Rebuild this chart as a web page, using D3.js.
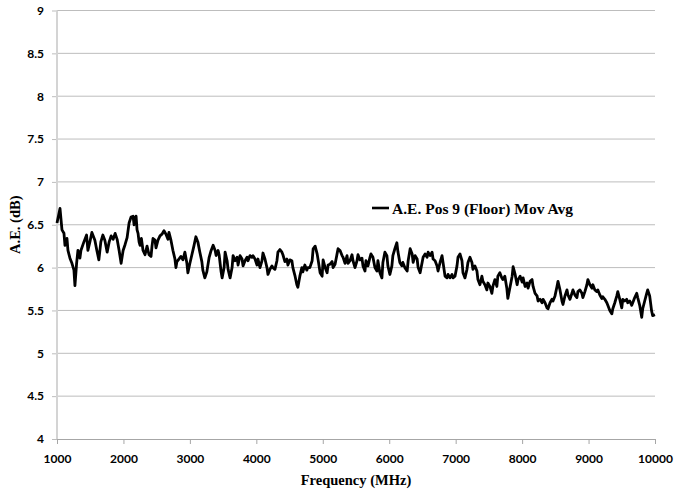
<!DOCTYPE html>
<html lang="en">
<head>
<meta charset="UTF-8">
<script src="https://d3js.org/d3.v7.min.js"></script>
<title>A.E. Pos 9</title>
<style>
    body { margin: 0; background: #fff; }
    .tick text { font-family: Lato, "Open Sans", sans-serif; font-weight: bold; font-size: 12px; fill: #000; }
    .title { font-family: "Liberation Serif", "Times New Roman", serif; font-weight: bold; font-size: 14.5px; fill: #000; }
</style>
</head>
<body>
<div id="chart"></div>
<script>
    // Tick values
    const xTicks = [1000, 2000, 3000, 4000, 5000, 6000, 7000, 8000, 9000, 10000];
    const yTicks = [4, 4.5, 5, 5.5, 6, 6.5, 7, 7.5, 8, 8.5, 9];

    // Series: frequency (MHz) and A.E. (dB)
    const freqMHz = [
        1000, 1045, 1075, 1105, 1120, 1150, 1165, 1195, 1225, 1255, 1270, 1295, 1315, 1345, 1360, 1405, 1445, 1465, 1495, 1525,
        1570, 1600, 1630, 1660, 1690, 1720, 1755, 1785, 1815, 1845, 1875, 1905, 1935, 1965, 1995, 2025, 2055, 2085, 2115, 2145,
        2160, 2175, 2190, 2205, 2220, 2235, 2250, 2270, 2295, 2325, 2355, 2385, 2415, 2430, 2445, 2475, 2490, 2520, 2550, 2580,
        2610, 2640, 2670, 2685, 2715, 2745, 2775, 2790, 2805, 2835, 2865, 2895, 2925, 2955, 2970, 3000, 3030, 3060, 3090, 3120,
        3150, 3180, 3195, 3225, 3255, 3290, 3320, 3350, 3380, 3395, 3425, 3440, 3470, 3485, 3515, 3530, 3560, 3575, 3605, 3635,
        3650, 3680, 3710, 3725, 3755, 3785, 3800, 3830, 3860, 3875, 3905, 3935, 3950, 3980, 4010, 4025, 4055, 4085, 4100, 4130,
        4160, 4175, 4205, 4235, 4250, 4280, 4310, 4325, 4355, 4385, 4400, 4430, 4460, 4475, 4505, 4535, 4550, 4580, 4610, 4625,
        4655, 4685, 4700, 4730, 4760, 4775, 4805, 4840, 4855, 4885, 4915, 4930, 4960, 4990, 5005, 5035, 5065, 5080, 5110, 5140,
        5155, 5185, 5215, 5230, 5260, 5290, 5305, 5335, 5365, 5380, 5410, 5440, 5455, 5485, 5515, 5530, 5560, 5590, 5605, 5635,
        5650, 5680, 5710, 5725, 5755, 5785, 5815, 5830, 5860, 5890, 5905, 5935, 5965, 5980, 6010, 6040, 6055, 6085, 6115, 6130,
        6160, 6190, 6205, 6235, 6270, 6285, 6315, 6345, 6360, 6390, 6420, 6435, 6465, 6495, 6510, 6540, 6570, 6585, 6615, 6645,
        6660, 6690, 6720, 6735, 6765, 6795, 6810, 6840, 6870, 6885, 6915, 6945, 6960, 6990, 7020, 7035, 7065, 7095, 7110, 7140,
        7170, 7185, 7215, 7245, 7260, 7290, 7320, 7335, 7365, 7395, 7410, 7440, 7470, 7485, 7515, 7545, 7560, 7590, 7620, 7635,
        7665, 7695, 7710, 7740, 7770, 7785, 7820, 7850, 7865, 7895, 7925, 7940, 7970, 8000, 8015, 8045, 8075, 8090, 8120, 8150,
        8165, 8195, 8225, 8240, 8270, 8300, 8315, 8345, 8375, 8390, 8420, 8450, 8465, 8495, 8525, 8540, 8570, 8600, 8615, 8645,
        8675, 8690, 8720, 8750, 8765, 8795, 8825, 8840, 8870, 8900, 8915, 8945, 8975, 8990, 9020, 9050, 9065, 9095, 9125, 9140,
        9170, 9200, 9215, 9245, 9275, 9290, 9320, 9350, 9365, 9395, 9425, 9440, 9470, 9500, 9515, 9545, 9575, 9590, 9620, 9650,
        9665, 9695, 9725, 9740, 9770, 9800, 9815, 9845, 9875, 9890, 9920, 9950, 9965, 10000
    ];
    const aeDb = [
        6.52, 6.69, 6.44, 6.40, 6.26, 6.34, 6.20, 6.11, 6.05, 5.97, 5.79, 6.05, 6.20, 6.11, 6.20, 6.30, 6.38, 6.20, 6.30, 6.41,
        6.32, 6.20, 6.09, 6.30, 6.38, 6.32, 6.18, 6.30, 6.37, 6.33, 6.40, 6.33, 6.20, 6.05, 6.20, 6.27, 6.35, 6.52, 6.59, 6.60,
        6.50, 6.55, 6.60, 6.44, 6.40, 6.30, 6.26, 6.34, 6.20, 6.15, 6.25, 6.15, 6.13, 6.25, 6.34, 6.32, 6.23, 6.32, 6.37, 6.39,
        6.43, 6.39, 6.33, 6.41, 6.32, 6.20, 6.10, 6.00, 6.07, 6.10, 6.13, 6.09, 6.18, 6.05, 5.94, 6.05, 6.15, 6.25, 6.36, 6.30,
        6.18, 6.07, 5.97, 5.88, 5.95, 6.12, 6.20, 6.26, 6.20, 6.14, 6.20, 6.15, 5.95, 5.88, 6.00, 6.18, 6.08, 5.98, 5.88, 6.00,
        6.14, 6.08, 6.12, 6.03, 6.14, 6.10, 6.02, 6.08, 6.12, 6.08, 6.14, 6.12, 6.14, 6.10, 6.03, 6.10, 6.00, 6.08, 6.17, 6.10,
        6.00, 5.92, 5.98, 6.02, 6.00, 5.98, 6.08, 6.18, 6.21, 6.18, 6.15, 6.07, 6.10, 6.03, 6.09, 6.08, 6.00, 5.91, 5.80, 5.77,
        5.90, 6.00, 5.95, 6.03, 5.97, 6.00, 6.00, 6.08, 6.22, 6.25, 6.16, 6.09, 5.94, 5.90, 6.09, 6.00, 5.94, 6.03, 6.04, 6.07,
        6.00, 6.04, 6.16, 6.22, 6.20, 6.14, 6.12, 6.05, 6.14, 6.05, 6.08, 6.15, 6.08, 6.00, 6.08, 6.15, 6.09, 6.11, 6.02, 5.96,
        6.08, 6.02, 6.12, 6.16, 6.12, 6.00, 5.96, 6.08, 5.94, 5.88, 6.06, 6.18, 6.14, 6.02, 5.92, 6.02, 6.14, 6.22, 6.29, 6.19,
        6.06, 6.02, 6.06, 6.00, 5.96, 6.08, 6.22, 6.16, 6.06, 6.14, 6.10, 6.00, 5.94, 6.06, 6.12, 6.16, 6.12, 6.18, 6.14, 6.18,
        6.10, 6.08, 6.02, 5.96, 6.06, 6.14, 6.06, 5.90, 5.88, 5.92, 5.88, 5.92, 5.88, 5.90, 6.02, 6.12, 6.16, 6.08, 5.94, 5.88,
        5.98, 6.06, 6.12, 6.06, 5.98, 6.02, 5.96, 5.86, 5.80, 5.90, 5.84, 5.80, 5.74, 5.82, 5.78, 5.70, 5.78, 5.86, 5.78, 5.90,
        5.94, 5.88, 5.86, 5.90, 5.76, 5.64, 5.78, 5.90, 6.01, 5.92, 5.80, 5.86, 5.90, 5.83, 5.88, 5.78, 5.82, 5.76, 5.84, 5.86,
        5.78, 5.70, 5.67, 5.61, 5.63, 5.59, 5.63, 5.59, 5.53, 5.52, 5.59, 5.63, 5.61, 5.67, 5.78, 5.84, 5.74, 5.61, 5.57, 5.67,
        5.74, 5.68, 5.63, 5.70, 5.74, 5.68, 5.65, 5.72, 5.74, 5.70, 5.65, 5.72, 5.80, 5.86, 5.80, 5.76, 5.80, 5.74, 5.72, 5.74,
        5.68, 5.64, 5.66, 5.63, 5.59, 5.56, 5.50, 5.46, 5.52, 5.59, 5.67, 5.72, 5.63, 5.53, 5.63, 5.61, 5.63, 5.59, 5.61, 5.56,
        5.59, 5.65, 5.70, 5.65, 5.56, 5.42, 5.52, 5.61, 5.70, 5.74, 5.67, 5.49, 5.44, 5.45
    ];
    const seriesName = "A.E. Pos 9 (Floor) Mov Avg";

    /*------------------- Layout --------------------*/
    const width = 675, height = 493;
    const margin = { top: 10.5, right: 20, bottom: 54, left: 57 };

    const svg = d3.select("#chart").append("svg")
        .attr("width", width)
        .attr("height", height);

    const x = d3.scaleLinear().domain([1000, 10000]).range([margin.left, width - margin.right]);
    const y = d3.scaleLinear().domain([4, 9]).range([height - margin.bottom, margin.top]);

    // horizontal gridlines
    svg.append("g")
        .selectAll("line")
        .data(yTicks.slice(1))
        .enter()
        .append("line")
        .attr("x1", margin.left)
        .attr("x2", width - margin.right)
        .attr("y1", d => y(d))
        .attr("y2", d => y(d))
        .attr("stroke", "#bdbdbd")
        .attr("stroke-width", 1);

    // y axis
    const yAxis = svg.append("g")
        .attr("transform", `translate(${margin.left},0)`)
        .call(d3.axisLeft(y).tickValues(yTicks).tickFormat(d3.format("")).tickSize(5).tickPadding(8));
    yAxis.select(".domain").remove();
    yAxis.selectAll(".tick line").attr("stroke", "#bdbdbd");
    svg.append("line")
        .attr("x1", margin.left).attr("x2", margin.left)
        .attr("y1", margin.top).attr("y2", height - margin.bottom)
        .attr("stroke", "#d4d4d4")
        .attr("stroke-width", 2);

    // x axis
    const xAxis = svg.append("g")
        .attr("transform", `translate(0,${height - margin.bottom})`)
        .call(d3.axisBottom(x).tickValues(xTicks).tickFormat(d3.format("d")).tickSize(5).tickPadding(10));
    xAxis.select(".domain").attr("stroke", "#a6a6a6");
    xAxis.selectAll(".tick line").attr("stroke", "#a6a6a6");

    // series line
    const line = d3.line()
        .x((d, i) => x(freqMHz[i]))
        .y(d => y(d));

    svg.append("path")
        .datum(aeDb)
        .attr("fill", "none")
        .attr("stroke", "#000")
        .attr("stroke-width", 2.8)
        .attr("stroke-linejoin", "round")
        .attr("d", line);

    // legend
    svg.append("line")
        .attr("x1", 372).attr("x2", 389)
        .attr("y1", 208).attr("y2", 208)
        .attr("stroke", "#000")
        .attr("stroke-width", 2.6);
    svg.append("text")
        .attr("class", "title")
        .attr("x", 392)
        .attr("y", 214)
        .style("font-size", "15.5px")
        .text(seriesName);

    // axis titles
    svg.append("text")
        .attr("class", "title")
        .attr("x", (margin.left + width - margin.right) / 2)
        .attr("y", 485)
        .attr("text-anchor", "middle")
        .text("Frequency (MHz)");

    svg.append("text")
        .attr("class", "title")
        .attr("transform", `translate(20,${(margin.top + height - margin.bottom) / 2}) rotate(-90)`)
        .attr("text-anchor", "middle")
        .text("A.E. (dB)");
</script>
</body>
</html>
